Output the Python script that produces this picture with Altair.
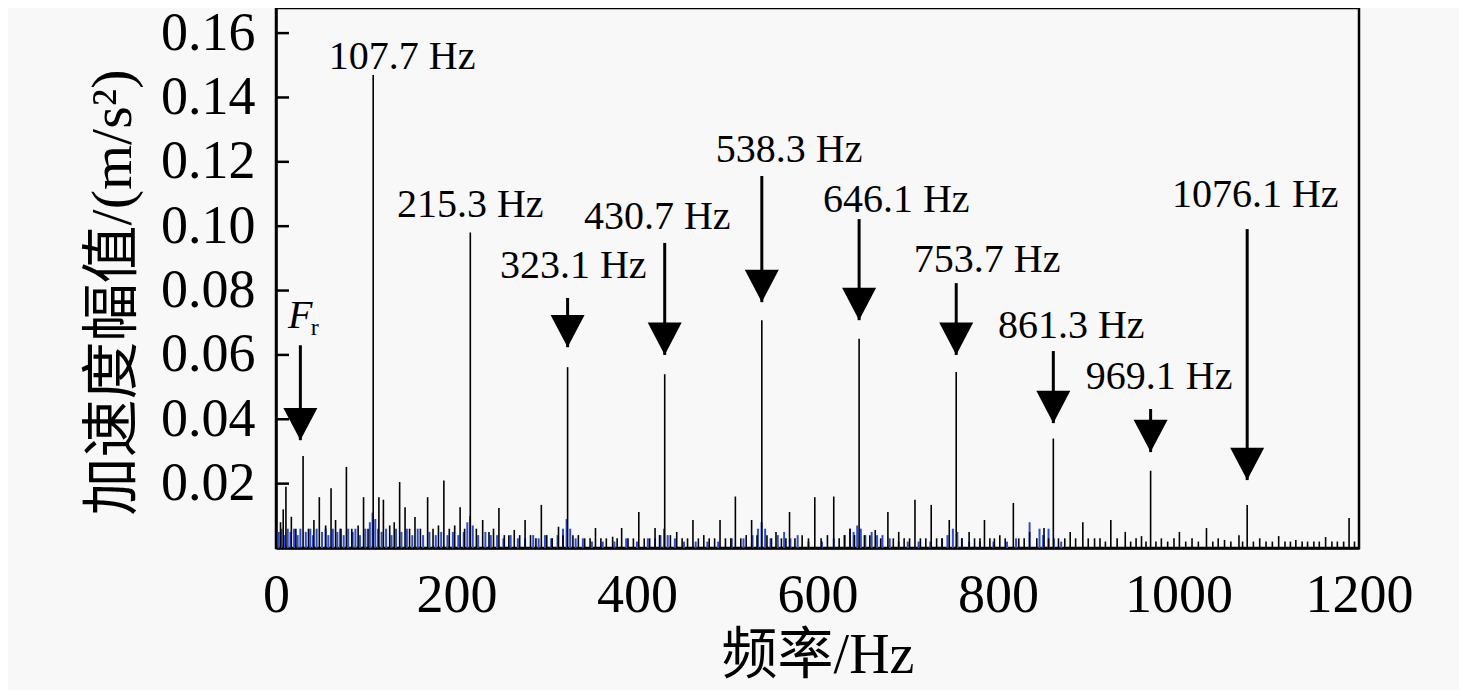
import altair as alt
import pandas as pd

# ---------------- data ----------------
black_freq = [5, 8, 11, 17, 22, 30, 36, 42, 48, 55, 61, 66, 72, 78, 84, 91, 97, 102, 107.7,
              114, 119, 126, 131, 137, 143, 148, 154, 160, 168, 174, 180, 186, 192, 198, 204,
              209, 215.3, 222, 229, 236, 241, 247, 253, 258, 264, 270, 276, 282, 288, 294,
              300, 306, 313, 318, 323.1, 329, 335, 342, 348, 354, 360, 366, 373, 378, 383,
              390, 396, 402, 408, 414, 420, 425, 430.7, 437, 444, 450, 456, 462, 468, 474,
              480, 486, 492, 498, 504, 509, 515, 521, 527, 533, 538.3, 544, 549, 554, 560,
              565, 569, 575, 583, 590, 597, 604, 611, 618, 624, 630, 636, 641, 646.1, 652,
              658, 664, 670, 678, 684, 690, 696, 702, 708, 714, 720, 726, 732, 738, 746,
              753.7, 760, 768, 774, 780, 785, 791, 796, 802, 808, 817, 823, 829, 835, 843,
              851, 856, 861.3, 867, 874, 880, 886, 894, 900, 907, 913, 919, 925, 932, 941,
              947, 953, 959, 964, 969.1, 975, 981, 988, 995, 1001, 1008, 1015, 1022, 1031,
              1038, 1044, 1051, 1058, 1067, 1071, 1076.1, 1083, 1090, 1097, 1104, 1111,
              1118, 1124, 1130, 1137, 1143, 1150, 1156, 1163, 1170, 1176, 1183, 1189, 1195]
black_amp = [0.008, 0.012, 0.019, 0.0097, 0.006, 0.0286, 0.006, 0.0087, 0.0158, 0.007, 0.0186,
             0.0087, 0.006, 0.0252, 0.006, 0.007, 0.0158, 0.006, 0.147,
             0.0158, 0.015, 0.007, 0.008, 0.0205, 0.0127, 0.006, 0.0096, 0.006, 0.0158, 0.006,
             0.007, 0.021, 0.006, 0.007, 0.0127,
             0.006, 0.098, 0.006, 0.0087, 0.005, 0.006, 0.0124, 0.004, 0.004, 0.0056, 0.004,
             0.0087, 0.004, 0.003, 0.0134,
             0.004, 0.003, 0.0066, 0.004, 0.0562, 0.004, 0.004, 0.003, 0.003, 0.0062, 0.003,
             0.003, 0.0035, 0.003, 0.0062,
             0.003, 0.003, 0.0112, 0.003, 0.003, 0.0062, 0.004, 0.054, 0.004, 0.005, 0.003,
             0.003, 0.0087, 0.003, 0.004,
             0.003, 0.003, 0.0087, 0.003, 0.003, 0.016, 0.003, 0.004, 0.0087, 0.004, 0.0708,
             0.004, 0.003, 0.005, 0.003,
             0.003, 0.0112, 0.003, 0.004, 0.003, 0.0158, 0.003, 0.004, 0.016, 0.003, 0.004,
             0.006, 0.004, 0.065, 0.004,
             0.004, 0.0056, 0.003, 0.0112, 0.003, 0.005, 0.003, 0.003, 0.015, 0.003, 0.003,
             0.0134, 0.003, 0.003, 0.0087,
             0.0547, 0.003, 0.005, 0.003, 0.003, 0.0087, 0.003, 0.003, 0.004, 0.003, 0.014,
             0.003, 0.003, 0.005, 0.003,
             0.0062, 0.003, 0.034, 0.003, 0.003, 0.005, 0.003, 0.008, 0.003, 0.003, 0.003,
             0.002, 0.0087, 0.003, 0.005,
             0.002, 0.003, 0.0037, 0.002, 0.024, 0.002, 0.003, 0.002, 0.003, 0.005, 0.002,
             0.003, 0.002, 0.0062,
             0.002, 0.003, 0.0025, 0.002, 0.004, 0.002, 0.0134, 0.002, 0.003, 0.002, 0.002,
             0.0037,
             0.002, 0.002, 0.0025, 0.002, 0.002, 0.002, 0.002, 0.0034, 0.002, 0.002, 0.002,
             0.0093, 0.002]

blue_freq = [3, 6, 9, 13, 16, 20, 24, 27, 33, 38, 41, 45, 51, 55, 58, 63, 68, 71, 75, 80, 85,
             88, 93, 99, 104, 107, 110, 113, 117, 122, 128, 133, 139, 145, 151, 157, 163, 170,
             177, 183, 190, 196, 202, 208, 212, 215, 218, 224, 232, 238, 245, 252, 260, 268,
             276, 285, 291, 298, 305, 312, 318, 322, 326, 332, 340, 350, 362, 375, 388, 400,
             412, 420, 426, 430, 434, 442, 452, 465, 478, 490, 505, 518, 528, 534, 538, 542,
             548, 556, 563, 570, 578, 590, 605, 618, 630, 636, 640, 644, 648, 653, 660, 666,
             672, 680, 690, 700, 712, 725, 738, 744, 750, 755, 760, 768, 780, 795, 810, 820,
             835, 846, 850, 856, 862, 870]
blue_amp = [0.005, 0.006, 0.004, 0.006, 0.005, 0.006, 0.004, 0.006, 0.005, 0.006, 0.004, 0.006,
            0.005, 0.006, 0.004, 0.006, 0.005, 0.006, 0.004, 0.006, 0.005, 0.006, 0.004, 0.006,
            0.008, 0.011, 0.009, 0.006, 0.005, 0.006, 0.004, 0.006, 0.005, 0.006, 0.004, 0.006,
            0.004, 0.005, 0.004, 0.005, 0.004, 0.005, 0.004, 0.005, 0.008, 0.010, 0.007, 0.004,
            0.005, 0.004, 0.004, 0.003, 0.004, 0.003, 0.003, 0.004, 0.003, 0.004, 0.003, 0.004,
            0.006, 0.009, 0.006, 0.003, 0.003, 0.002, 0.002, 0.002, 0.003, 0.002, 0.003, 0.003,
            0.004, 0.006, 0.004, 0.003, 0.002, 0.002, 0.002, 0.002, 0.003, 0.003, 0.004, 0.006,
            0.008, 0.006, 0.003, 0.004, 0.005, 0.003, 0.004, 0.002, 0.002, 0.003, 0.004, 0.006,
            0.005, 0.007, 0.006, 0.004, 0.005, 0.004, 0.004, 0.003, 0.002, 0.002, 0.002, 0.002,
            0.003, 0.004, 0.006, 0.005, 0.003, 0.002, 0.002, 0.002, 0.002, 0.003, 0.008, 0.006,
            0.004, 0.006, 0.003, 0.002]

peak_labels = ["107.7 Hz", "215.3 Hz", "323.1 Hz", "430.7 Hz", "538.3 Hz", "646.1 Hz",
               "753.7 Hz", "861.3 Hz", "969.1 Hz", "1076.1 Hz"]
label_freq = [139.8, 215.2, 329.3, 422.4, 568.6, 687.2, 788.0, 881.1, 978.6, 1085.0]
label_amp = [0.1525, 0.1066, 0.0876, 0.1028, 0.1236, 0.1081, 0.0895, 0.0690, 0.0531, 0.1097]

arrow_freq = [27, 323.1, 430.7, 538.3, 646.1, 753.7, 861.3, 969.1, 1076.1]
arrow_top = [0.063, 0.0777, 0.0948, 0.1156, 0.1022, 0.0823, 0.0612, 0.0432, 0.0991]
arrow_tip = [0.0335, 0.0624, 0.060, 0.0764, 0.0708, 0.060, 0.0388, 0.0298, 0.0211]

fr_label = ["F"]
fr_sub = ["r"]
fr_freq = [26.8]
fr_amp = [0.0722]
fr_sub_freq = [38.5]
fr_sub_amp = [0.0685]

x_ticks = [0, 200, 400, 600, 800, 1000, 1200]
y_ticks = [0.02, 0.04, 0.06, 0.08, 0.10, 0.12, 0.14, 0.16]

# ---------------- chart ----------------
FONT = "Liberation Serif, Times New Roman, Noto Sans CJK SC"

black_df = pd.DataFrame({"f": black_freq, "a": black_amp})
blue_df = pd.DataFrame({"f": blue_freq, "a": blue_amp})
lab_df = pd.DataFrame({"f": label_freq, "a": label_amp, "t": peak_labels})
arr_df = pd.DataFrame({"f": arrow_freq, "a": arrow_tip, "a2": arrow_top})
fr_df = pd.DataFrame({"f": fr_freq, "a": fr_amp, "t": fr_label})
frs_df = pd.DataFrame({"f": fr_sub_freq, "a": fr_sub_amp, "t": fr_sub})
tick_df = pd.DataFrame({"a": y_ticks})

xs = alt.Scale(domain=[0, 1200], nice=False, zero=False)
ys = alt.Scale(domain=[0, 0.1678], nice=False, zero=False)

x_enc = alt.X("f:Q", scale=xs, axis=alt.Axis(
    values=x_ticks, format="d", title="频率/Hz", labelFlush=False,
    labelFontSize=54, labelPadding=20, ticks=False, tickSize=0,
    titleFontSize=56, titlePadding=6))
y_enc = alt.Y("a:Q", scale=ys, axis=alt.Axis(
    values=y_ticks, format=".2f", title="加速度幅值/(m/s²)",
    labelFontSize=54, labelPadding=21, ticks=False, tickSize=0,
    titleFontSize=58, titlePadding=18, titleY=284))

blue = alt.Chart(blue_df).mark_rule(color="#2a4fd6", strokeWidth=2).encode(
    x=x_enc, y=y_enc, y2=alt.datum(0))
black = alt.Chart(black_df).mark_rule(color="black", strokeWidth=1.6).encode(
    x=x_enc, y=y_enc, y2=alt.datum(0))

shafts = alt.Chart(arr_df).mark_rule(color="black", strokeWidth=3).encode(
    x=x_enc, y=y_enc, y2=alt.Y2("a2:Q"))
heads = alt.Chart(arr_df).mark_point(
    shape="M -1 -1.9 L 1 -1.9 L 0 0 Z", filled=True, size=1156,
    color="black", opacity=1, strokeWidth=0).encode(x=x_enc, y=y_enc)

labels = alt.Chart(lab_df).mark_text(
    font=FONT, fontSize=40, color="black", align="center", baseline="middle").encode(
    x=x_enc, y=y_enc, text="t:N")
fr_text = alt.Chart(fr_df).mark_text(
    font=FONT, fontSize=40, fontStyle="italic", color="black",
    align="center", baseline="middle").encode(x=x_enc, y=y_enc, text="t:N")
frs_text = alt.Chart(frs_df).mark_text(
    font=FONT, fontSize=24, color="black", align="left", baseline="middle").encode(
    x=x_enc, y=y_enc, text="t:N")

in_ticks = alt.Chart(tick_df).mark_rule(color="black", strokeWidth=2.5).encode(
    y=y_enc, x=alt.value(0), x2=alt.value(13))

chart = alt.layer(blue, black, shafts, heads, labels, fr_text, frs_text, in_ticks).properties(
    width=1083, height=540,
    autosize=alt.AutoSizeParams(type="none"),
    padding={"left": 268, "top": 0, "right": 100, "bottom": 142},
    background="#f8f8f8",
).configure_view(
    stroke="black", strokeWidth=2.5
).configure_axis(
    grid=False, domainColor="black", domainWidth=2.5,
    labelColor="black", titleColor="black",
    labelFont=FONT, titleFont=FONT, titleFontWeight="normal",
)

chart.save("out.html", embed_options={"renderer": "svg", "actions": False})
